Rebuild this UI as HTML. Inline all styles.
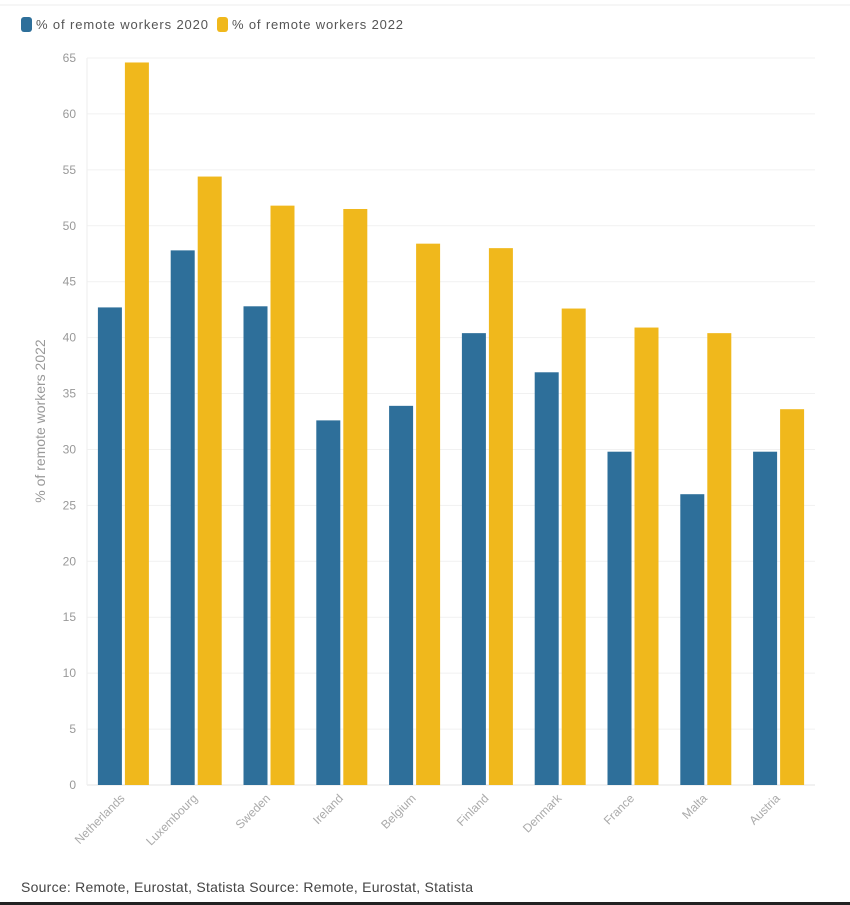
<!DOCTYPE html>
<html><head><meta charset="utf-8"><style>
body{margin:0;background:#fff;width:850px;height:905px;overflow:hidden;font-family:"Liberation Sans",sans-serif}
svg{display:block}
</style></head><body>
<svg id="chart" width="850" height="905">
<line x1="0" y1="5" x2="850" y2="5" stroke="#eee"/>
<line x1="0" y1="903.5" x2="850" y2="903.5" stroke="#222" stroke-width="3"/>
<g>
<g><rect x="21" y="17" width="11" height="15" rx="3" fill="#2e6f9a"/><text x="36" y="29" font-size="13" fill="#555" textLength="172">% of remote workers 2020</text></g>
<g><rect x="217" y="17" width="11" height="15" rx="3" fill="#f0b81c"/><text x="232" y="29" font-size="13" fill="#555" textLength="171">% of remote workers 2022</text></g>
</g>
<text transform="translate(45,421) rotate(-90)" text-anchor="middle" font-size="14" fill="#999">% of remote workers 2022</text>
<g id="grid"></g><g id="bars"></g><g id="xl"></g>
<text x="21" y="892" font-size="14" fill="#444" textLength="452">Source: Remote, Eurostat, Statista Source: Remote, Eurostat, Statista</text>
</svg>
<script>
const categories=["Netherlands","Luxembourg","Sweden","Ireland","Belgium","Finland","Denmark","France","Malta","Austria"];
const values2020=[42.7,47.8,42.8,32.6,33.9,40.4,36.9,29.8,26.0,29.8];
const values2022=[64.6,54.4,51.8,51.5,48.4,48.0,42.6,40.9,40.4,33.6];
const yTicks=[0,5,10,15,20,25,30,35,40,45,50,55,60,65];
const NS="http://www.w3.org/2000/svg";
const x0=87,x1=815,yb=785,yt=58,ymax=65;
const y=v=>yb-(v/ymax)*(yb-yt);
const step=(x1-x0)/categories.length;
const cx=i=>x0+step*(i+0.5);
function mk(t,a,p){const e=document.createElementNS(NS,t);for(const k in a)e.setAttribute(k,a[k]);p.appendChild(e);return e;}
const g=document.getElementById('grid'),b=document.getElementById('bars'),xl=document.getElementById('xl');
yTicks.forEach(v=>{
const l=mk('line',{x1:x0,x2:x1,y1:y(v),y2:y(v),stroke:v===0?'#e3e3e3':'#f1f1f1'},g);


const t=mk('text',{x:76,y:y(v)+4,'text-anchor':'end','font-size':12,fill:'#999'},g);t.textContent=v;


});
mk('line',{x1:x0,x2:x0,y1:yt,y2:yb,stroke:'#eee'},g);
categories.forEach((c,i)=>{
const c0=cx(i);
const r1=mk('rect',{x:c0-25.5,y:y(values2020[i]),width:24,height:yb-y(values2020[i]),fill:'#2e6f9a'},b);


const r2=mk('rect',{x:c0+1.5,y:y(values2022[i]),width:24,height:yb-y(values2022[i]),fill:'#f0b81c'},b);


const t=mk('text',{transform:`translate(${c0+2},${yb+14}) rotate(-45)`,'text-anchor':'end','font-size':12,fill:'#aaa'},xl);
t.textContent=c;


});
</script>
</body></html>
